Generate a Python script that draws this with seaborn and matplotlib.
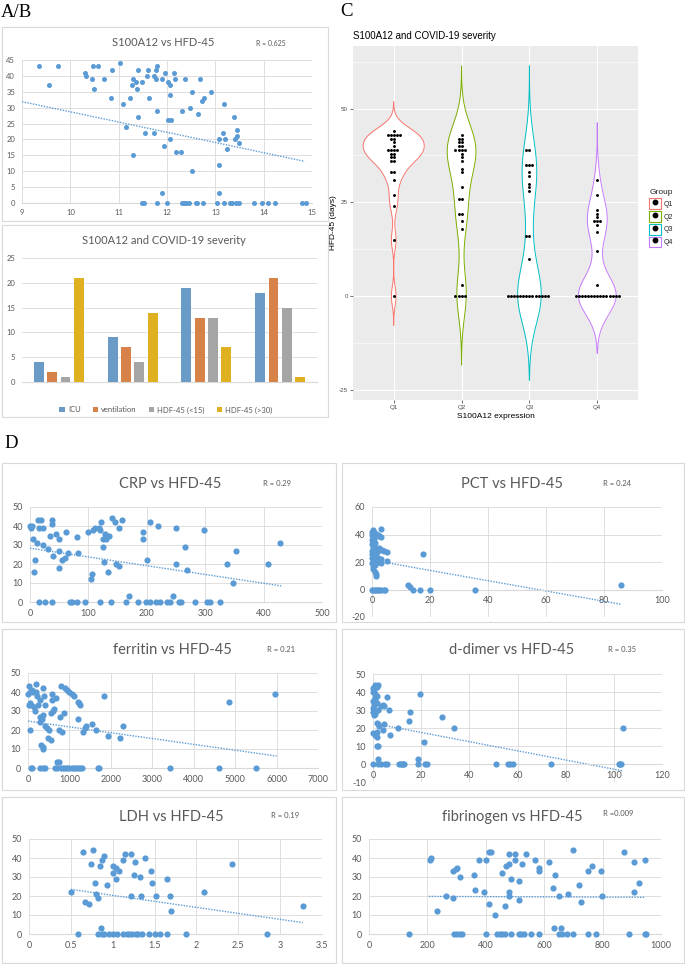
import numpy as np
import pandas as pd
import matplotlib
matplotlib.use("Agg")
import matplotlib.pyplot as plt
import seaborn as sns
from matplotlib.patches import Rectangle
from matplotlib.lines import Line2D
from matplotlib.legend_handler import HandlerTuple
from matplotlib.ticker import FuncFormatter

# ---------------- DATA ----------------
# Panel A: S100A12 vs HFD-45
a_x = [9.35, 9.55, 9.75, 10.3, 10.32, 10.45, 10.47, 10.5, 10.57, 10.7, 10.85, 10.87, 11.02, 11.1, 11.15,
       11.24, 11.27, 11.3, 11.3, 11.36, 11.38, 11.4, 11.4, 11.49, 11.49, 11.52, 11.55, 11.58, 11.6, 11.62,
       11.73, 11.74, 11.78, 11.78, 11.79, 11.8, 11.8, 11.9, 11.9, 11.94, 11.95, 12.0, 12.02, 12.03, 12.06,
       12.07, 12.08, 12.07, 12.15, 12.17, 12.19, 12.28, 12.3, 12.3, 12.35, 12.38, 12.4, 12.45, 12.48, 12.52,
       12.52, 12.6, 12.62, 12.65, 12.68, 12.72, 12.74, 12.76, 12.9, 13.03, 13.07, 13.07, 13.08, 13.15, 13.18,
       13.18, 13.2, 13.25, 13.3, 13.35, 13.38, 13.4, 13.42, 13.44, 13.45, 13.48, 13.5, 13.8, 13.96, 14.1,
       14.24, 14.8, 14.87]
a_y = [43, 37, 43, 41, 40, 39, 43, 36, 43, 39, 33, 42, 44, 31, 24,
       33, 37, 15, 39, 38, 36, 27, 42, 38, 0, 0, 22, 40, 42, 33,
       22, 40, 39, 42, 43, 29, 0, 39, 3, 18, 41, 0, 38, 26, 37,
       34, 26, 20, 41, 39, 16, 16, 29, 0, 0, 39, 0, 0, 30, 35,
       10, 0, 0, 28, 39, 32, 0, 33, 35, 0, 12, 3, 20, 22, 0,
       31, 20, 17, 0, 0, 27, 20, 0, 21, 23, 19, 0, 0, 0, 0,
       0, 0, 0]
a_trend_x = [9.0, 14.85]
a_trend_y = [31.9, 13.1]
a_r = "R = 0.625"

# Panel B: S100A12 and COVID-19 severity (bar counts)
b_quartiles = ["Q1", "Q2", "Q3", "Q4"]
b_measures = ["ICU", "ventilation", "HDF-45 (<15)", "HDF-45 (>30)"]
b_icu = [4, 9, 19, 18]
b_vent = [2, 7, 13, 21]
b_hdf_lt15 = [1, 4, 13, 15]
b_hdf_gt30 = [21, 14, 7, 1]

# Panel C: HFD-45 by S100A12 quartile
c_q1 = [44, 43, 43, 43, 43, 43, 42, 42, 41, 40, 39, 39, 39, 39, 38, 38, 37, 37, 36, 36, 33, 33, 31, 27, 24, 15, 0]
c_q2 = [43, 42, 42, 41, 41, 40, 40, 39, 39, 39, 39, 38, 37, 36, 34, 33, 29, 26, 26, 22, 22, 20, 18, 3, 0, 0, 0, 0]
c_q3 = [39, 39, 35, 35, 35, 33, 32, 30, 29, 28, 16, 16, 10] + [0] * 14
c_q4 = [31, 27, 23, 22, 21, 20, 20, 20, 19, 17, 12, 3] + [0] * 15

# Panel D: biomarkers vs HFD-45
crp_x = [0, 2, 3, 5, 8, 7, 12, 13, 15, 18, 22, 22, 30, 35, 37, 38, 40, 45, 50, 50, 50, 55, 60, 62, 65, 80, 82,
         100, 105, 107, 108, 112, 118, 120, 122, 125, 125, 127, 128, 130, 132, 133, 135, 140, 145, 148, 152, 152,
         158, 193, 193, 200, 205, 220, 250, 250, 265, 268, 298, 338, 353, 348, 408, 428,
         15, 25, 38, 68, 72, 80, 95, 120, 138, 165, 170, 185, 198, 205, 215, 222, 235, 240, 245, 255, 258, 283,
         303, 308, 325]
crp_y = [40, 39, 40, 33, 22, 16, 31, 43, 39, 43, 39, 30, 28, 35, 41, 43, 24, 36, 33, 27, 18, 22, 23, 37, 26, 34, 26,
         37, 12, 15, 38, 39, 39, 38, 42, 33, 29, 21, 36, 33, 35, 16, 35, 44, 42, 20, 19, 39,
         43, 37, 33, 22, 42, 40, 39, 20, 29, 17, 38, 20, 27, 10, 20, 31,
         0, 0, 0, 0, 0, 0, 0, 0, 0, 0, 3, 0, 0, 0, 0, 0, 0, 0, 3, 0, 0, 0,
         0, 0, 0]
crp_trend_x = [0, 430]
crp_trend_y = [28.3, 8.5]

pct_x = [0, 0.5, 1, 0, 0.3, 0.8, 0, 0.5, 1, 0, 0.2, 1, 0.5, 0, 0.8, 0, 1.5, 0.3, 0, 1, 2, 0.5, 0, 1, 0.2, 0.5, 1,
         1.5, 1.5, 2, 2.5, 3, 3, 2.5, 3.5, 2, 4, 5, 5, 3, 2.5, 3, 2, 17.5, 86,
         0, 0.5, 1, 1.5, 2, 2.5, 3, 4, 4.5, 12.5, 13, 14, 16.5, 20, 35.5]
pct_y = [42, 43, 41, 40, 38, 37, 36, 35, 34, 33, 31, 30, 29, 28, 27, 26, 25, 24, 23, 22, 21, 20, 19, 18, 17, 15, 13,
         11, 10, 40, 39, 38, 44, 30, 29, 28, 28, 27, 21, 22, 20, 19, 23, 26, 3,
         0, 0, 0, 0, 0, 0, 0, 0, 0, 3, 1.5, 0, 0, 0, 0]
pct_trend_x = [5, 86]
pct_trend_y = [19.5, -10.8]

fer_x = [0, 20, 30, 50, 60, 60, 80, 100, 120, 150, 170, 200, 200, 220, 250, 280, 300, 300, 320, 330, 350, 350, 370,
         370, 380, 400, 420, 450, 480, 500, 560, 550, 580, 600, 620, 580, 680, 750, 780, 800, 820, 870, 900, 950,
         1000, 1050, 1100, 1200, 1200, 1230, 1250, 1330, 1380, 1400, 1550, 1630, 1830, 1930, 2230, 2300, 4850, 5970,
         80, 100, 300, 350, 400, 650, 700, 700, 740, 800, 850, 900, 950, 1000, 1050, 1100, 1150, 1200, 1250, 1300,
         1680, 1720, 3430, 4600, 5500]
fer_y = [39, 43, 33, 40, 34, 20, 33, 41, 40, 32, 30, 44, 40, 38, 33, 24, 36, 27, 12, 26, 11, 42, 28,
         10, 38, 33, 22, 21, 16, 20, 15, 29, 36, 30, 31, 39, 37, 20, 27, 43, 19, 29, 42, 41,
         40, 39, 38, 35, 26, 34, 33, 19, 21, 22, 23, 20, 38, 17, 16, 22, 35, 39,
         0, 0, 0, 0, 0, 0, 3, 0, 3, 0, 0, 0, 0, 0, 0, 0, 0, 0, 0, 0,
         0, 0, 0, 0, 0]
fer_trend_x = [0, 6000]
fer_trend_y = [24.7, 6.3]

dd_x = [0, 0, 0.5, 1, 0, 0.5, 0, 1, 0.5, 1, 1.5, 2, 1.5, 1, 1, 1.5, 0, 1, 2, 0, 1, 1.5, 1.5, 2, 2.5, 1.5, 1.5, 2,
        2, 3.5, 4, 4.5, 4, 4.5, 6, 6.5, 7, 10.5, 15, 15.5, 19.5, 21, 28.5, 33.5, 104,
        0, 2, 3.5, 5, 6, 11, 11.5, 12, 12.5, 13, 18.5, 18.5, 21.5, 22.5, 51, 56, 57, 58, 74, 102, 102.5, 103]
dd_y = [42, 40, 41, 39, 35, 33, 31, 29, 27, 44, 43, 44, 38, 37, 36, 34, 29, 28, 30, 17, 16, 15, 23, 22, 21, 18, 10, 10,
        3, 32, 33, 32, 19, 22, 37, 30, 16, 20, 24, 29, 39, 12, 26, 20, 20,
        0, 0, 0, 0, 0, 0, 0, 0, 0, 0, 0, 3, 0, 0, 0, 0, 0, 0, 0, 0, 0, 0]
dd_trend_x = [2, 104]
dd_trend_y = [22.1, -3.9]

ldh_x = [0.5, 0.58, 0.65, 0.67, 0.72, 0.74, 0.77, 0.79, 0.8, 0.82, 0.82, 0.85, 0.86, 0.87, 0.87, 0.89, 0.9, 0.93,
         0.95, 1.0, 1.0, 1.0, 1.04, 1.04, 1.05, 1.08, 1.12, 1.12, 1.15, 1.17, 1.2, 1.22, 1.22, 1.23, 1.25, 1.27,
         1.28, 1.3, 1.32, 1.34, 1.35, 1.38, 1.43, 1.46, 1.47, 1.5, 1.52, 1.56, 1.65, 1.65, 1.68, 1.7, 1.87, 2.09,
         2.42, 2.84, 3.27]
ldh_y = [22, 0, 43, 17, 16, 37, 44, 27, 21, 19, 0, 36, 3, 39, 0, 41, 0, 26,
         0, 32, 36, 0, 35, 29, 0, 33, 39, 0, 42, 0, 0, 42, 20, 0, 31, 38,
         0, 0, 30, 20, 0, 40, 0, 33, 27, 0, 20, 0, 29, 0, 20, 12, 0, 22,
         37, 0, 15]
ldh_trend_x = [0.5, 3.27]
ldh_trend_y = [23.5, 6.0]

fib_x = [137, 208, 213, 233, 265, 287, 287, 290, 297, 300, 300, 310, 312, 320, 360, 362, 375, 395, 400, 402, 410,
         410, 418, 432, 440, 447, 455, 455, 465, 467, 470, 478, 478, 480, 480, 488, 488, 500, 500, 512, 515, 512,
         525, 522, 530, 537, 555, 567, 582, 582, 583, 617, 630, 632, 637, 650, 650, 658, 660, 678, 680, 700, 700,
         718, 725, 750, 750, 765, 777, 795, 797, 872, 890, 908, 908, 925, 945, 945, 947]
fib_y = [0, 39, 40, 12, 20, 19, 33, 0, 34, 35, 0, 0, 30, 0, 31, 23, 39, 22, 39, 0, 43,
         16, 43, 10, 0, 0, 32, 0, 0, 15, 36, 37, 42, 22, 20, 29, 0, 42, 39, 28, 18, 0,
         37, 0, 0, 42, 0, 39, 35, 33, 0, 38, 24, 3, 31, 20, 0, 3, 0, 0, 21, 44, 0,
         26, 17, 33, 0, 36, 0, 33, 20, 43, 0, 38, 22, 27, 39, 0, 0]
fib_trend_x = [205, 945]
fib_trend_y = [19.8, 19.3]

# ---------------- STYLE ----------------
W, H = 685, 965
BLUE = "#5B9BD5"
GRID = "#D9D9D9"
TXT = "#595959"
XF = ["Lato", "DejaVu Sans"]
GG = ["Liberation Sans", "DejaVu Sans"]
SERIF = ["Liberation Serif", "DejaVu Serif"]

sns.set_theme(style="white")
plt.rcParams["font.family"] = XF
plt.rcParams["axes.unicode_minus"] = False

fig = plt.figure(figsize=(W / 100, H / 100), dpi=100)
fig.patch.set_facecolor("white")


def ax_px(x0, y0, x1, y1):
    return fig.add_axes([x0 / W, 1 - y1 / H, (x1 - x0) / W, (y1 - y0) / H])


def box_px(x0, y0, x1, y1):
    fig.add_artist(Rectangle((x0 / W, 1 - y1 / H), (x1 - x0) / W, (y1 - y0) / H,
                             transform=fig.transFigure, fill=False, ec=GRID, lw=0.8))


def ftext(x, y, s, **kw):
    fig.text(x / W, 1 - y / H, s, **kw)


fmt = FuncFormatter(lambda v, p: f"{v:g}")


def excel_axes(rect, xlim, ylim, xticks, yticks, zero_axis=False, size=6.5, xpad=5, ypad=5):
    ax = ax_px(*rect)
    ax.set_xlim(xlim)
    ax.set_ylim(ylim)
    ax.set_xticks(xticks)
    ax.set_yticks(yticks)
    ax.xaxis.set_major_formatter(fmt)
    ax.yaxis.set_major_formatter(fmt)
    ax.grid(True, color=GRID, lw=0.6)
    ax.set_axisbelow(True)
    for s in ax.spines.values():
        s.set_visible(False)
    b = ax.spines["bottom"]
    b.set_visible(True)
    b.set_color(GRID)
    b.set_linewidth(0.8)
    if zero_axis:
        b.set_position(("data", 0))
    ax.tick_params(axis="x", length=0, labelsize=size, labelcolor=TXT, pad=xpad)
    ax.tick_params(axis="y", length=0, labelsize=size, labelcolor=TXT, pad=ypad)
    ax.set_facecolor("none")
    return ax


def scatter_panel(ax, xs, ys, tx, ty, s=20):
    sns.scatterplot(x=xs, y=ys, ax=ax, color=BLUE, s=s, linewidth=0, zorder=3, clip_on=False)
    sns.lineplot(x=tx, y=ty, ax=ax, color=BLUE, lw=1.0, linestyle=(0, (1, 1)), zorder=2)
    ax.set_xlabel("")
    ax.set_ylabel("")


# ---------------- PANEL LABELS ----------------
ftext(1, 17, "A/B", family=SERIF, fontsize=13.5, color="black")
ftext(340, 16, "C", family=SERIF, fontsize=13.5, color="black")
ftext(4, 448, "D", family=SERIF, fontsize=13.5, color="black")

# ---------------- PANEL A ----------------
box_px(2, 27, 328, 221)
axA = excel_axes((22, 60, 312, 203), (9, 15), (0, 45), np.arange(9, 16, 1), np.arange(0, 46, 5), size=5.5, xpad=4)
scatter_panel(axA, a_x, a_y, a_trend_x, a_trend_y, s=13)
ftext(163, 43, "S100A12 vs HFD-45", fontsize=8, color=TXT, ha="center", va="center")
ftext(256, 43, a_r, fontsize=5, color=TXT, ha="left", va="center")

# ---------------- PANEL B ----------------
box_px(2, 225, 328, 417)
df_b = pd.DataFrame({
    "quartile": b_quartiles * 4,
    "measure": sum([[m] * 4 for m in b_measures], []),
    "count": b_icu + b_vent + b_hdf_lt15 + b_hdf_gt30,
})
axB = excel_axes((22, 258, 317, 382), (-0.5, 3.5), (0, 25), [], np.arange(0, 26, 5), size=5.5)
sns.barplot(data=df_b, x="quartile", y="count", hue="measure", hue_order=b_measures,
            palette=[BLUE, "#ED7D31", "#A5A5A5", "#FFC000"], width=0.72, gap=0.25,
            linewidth=0, ax=axB, zorder=3)
axB.set_xlim(-0.5, 3.5)
axB.set_xlabel("")
axB.set_ylabel("")
axB.grid(False, axis="x")
axB.tick_params(axis="x", length=0, labelsize=5.5, labelcolor=TXT, pad=5)
h, l = axB.get_legend_handles_labels()
axB.get_legend().remove()
fig.legend(h, l, loc="center", bbox_to_anchor=(166 / W, 1 - 410 / H), ncol=4, frameon=False,
           fontsize=5.5, handlelength=0.7, handleheight=0.7, handletextpad=0.4, columnspacing=1.6,
           labelcolor=TXT)
ftext(164, 240, "S100A12 and COVID-19 severity", fontsize=8, color=TXT, ha="center", va="center")

# ---------------- PANEL C ----------------
groups = ["Q1", "Q2", "Q3", "Q4"]
gg_cols = ["#F8766D", "#7CAE00", "#00BFC4", "#C77CFF"]
df_c = pd.DataFrame({
    "Group": ["Q1"] * len(c_q1) + ["Q2"] * len(c_q2) + ["Q3"] * len(c_q3) + ["Q4"] * len(c_q4),
    "HFD": c_q1 + c_q2 + c_q3 + c_q4,
})


def nrd0(kde):
    x = np.asarray(kde.dataset).ravel()
    sd = np.std(x, ddof=1)
    iqr = np.subtract(*np.percentile(x, [75, 25]))
    lo = min(sd, iqr / 1.34) if iqr > 0 else sd
    bw = 0.9 * lo * len(x) ** (-0.2)
    return bw / sd


axC = ax_px(353, 46, 638, 400)
axC.set_facecolor("#EBEBEB")
vkw = dict(data=df_c, x="Group", y="HFD", order=groups, bw_method=nrd0, cut=3, gridsize=512,
           density_norm="area", common_norm=True, width=0.9, inner=None, ax=axC)
sns.violinplot(color="white", linewidth=0, saturation=1, **vkw)
sns.violinplot(hue="Group", hue_order=groups, palette=gg_cols, fill=False, linewidth=0.7,
               legend=False, **vkw)
sns.swarmplot(data=df_c, x="Group", y="HFD", order=groups, color="black", size=2.1, ax=axC, zorder=4)
axC.set_xlim(-0.6, 3.6)
axC.set_ylim(-27.7, 66.7)
axC.set_yticks([-25, 0, 25, 50])
axC.set_yticks([-12.5, 12.5, 37.5, 62.5], minor=True)
axC.grid(True, which="major", color="white", lw=0.8)
axC.grid(True, which="minor", axis="y", color="white", lw=0.4)
axC.set_axisbelow(True)
for s in axC.spines.values():
    s.set_visible(False)
axC.tick_params(which="major", length=2, width=0.5, color="#333333", labelsize=4.5,
                labelcolor="#4D4D4D", pad=1.5, left=True, bottom=True)
axC.tick_params(which="minor", length=0)
for lab in axC.get_xticklabels() + axC.get_yticklabels():
    lab.set_family(GG)
axC.set_xlabel("S100A12 expression", family=GG, fontsize=6, color="black", labelpad=2)
axC.set_ylabel("HFD-45 (days)", family=GG, fontsize=6, color="black", labelpad=1.5)
ftext(353, 36, "S100A12 and COVID-19 severity", family=GG, fontsize=7, color="black", ha="left", va="center")
handles = [(Rectangle((0, 0), 1, 1, fc="white", ec=c, lw=0.8),
            Line2D([], [], marker="o", color="black", ls="", ms=3.2)) for c in gg_cols]
legC = fig.legend(handles, groups, title="Group", loc="upper left", bbox_to_anchor=(645 / W, 1 - 185 / H),
                  frameon=False, handlelength=1.75, handleheight=2.0, fontsize=5, title_fontsize=6,
                  labelspacing=0.3, handletextpad=0.4, alignment="left", borderaxespad=0.2,
                  handler_map={tuple: HandlerTuple(ndivide=1)})
for t in legC.get_texts():
    t.set_family(GG)
legC.get_title().set_family(GG)

# ---------------- PANEL D ----------------
boxes = [(2, 463, 336, 622), (342, 463, 684, 622), (2, 629, 336, 790), (342, 629, 684, 790),
         (2, 797, 336, 963), (342, 797, 684, 963)]
for bx in boxes:
    box_px(*bx)

axCRP = excel_axes((30, 507, 322, 602), (0, 500), (0, 50), np.arange(0, 501, 100), np.arange(0, 51, 10))
scatter_panel(axCRP, crp_x, crp_y, crp_trend_x, crp_trend_y)
ftext(170, 484, "CRP vs HFD-45", fontsize=10.5, color=TXT, ha="center", va="center")
ftext(263, 484, "R = 0.29", fontsize=5.5, color=TXT, ha="left", va="center")

axPCT = excel_axes((372, 507, 662, 617), (0, 100), (-20, 60), np.arange(0, 101, 20), np.arange(-20, 61, 20),
                   zero_axis=True)
scatter_panel(axPCT, pct_x, pct_y, pct_trend_x, pct_trend_y)
ftext(512, 484, "PCT vs HFD-45", fontsize=10.5, color=TXT, ha="center", va="center")
ftext(603, 484, "R = 0.24", fontsize=5.5, color=TXT, ha="left", va="center")

axFER = excel_axes((28, 673, 318, 768), (0, 7000), (0, 50), np.arange(0, 7001, 1000), np.arange(0, 51, 10))
scatter_panel(axFER, fer_x, fer_y, fer_trend_x, fer_trend_y)
ftext(172, 650, "ferritin vs HFD-45", fontsize=10.5, color=TXT, ha="center", va="center")
ftext(267, 650, "R = 0.21", fontsize=5.5, color=TXT, ha="left", va="center")

axDD = excel_axes((373, 674, 662, 782), (0, 120), (-10, 50), np.arange(0, 121, 20), np.arange(-10, 51, 10),
                  zero_axis=True)
scatter_panel(axDD, dd_x, dd_y, dd_trend_x, dd_trend_y)
ftext(512, 650, "d-dimer vs HFD-45", fontsize=10.5, color=TXT, ha="center", va="center")
ftext(608, 650, "R = 0.35", fontsize=5.5, color=TXT, ha="left", va="center")

axLDH = excel_axes((29, 839, 322, 934), (0, 3.5), (0, 50), np.arange(0, 3.51, 0.5), np.arange(0, 51, 10))
scatter_panel(axLDH, ldh_x, ldh_y, ldh_trend_x, ldh_trend_y)
ftext(171, 817, "LDH vs HFD-45", fontsize=10.5, color=TXT, ha="center", va="center")
ftext(271, 815, "R = 0.19", fontsize=5.5, color=TXT, ha="left", va="center")

axFIB = excel_axes((369, 839, 661, 934), (0, 1000), (0, 50), np.arange(0, 1001, 200), np.arange(0, 51, 10))
scatter_panel(axFIB, fib_x, fib_y, fib_trend_x, fib_trend_y)
ftext(512, 817, "fibrinogen vs HFD-45", fontsize=10.5, color=TXT, ha="center", va="center")
ftext(603, 814, "R =0.009", fontsize=5.5, color=TXT, ha="left", va="center")

fig.savefig("out.png", dpi=100)
